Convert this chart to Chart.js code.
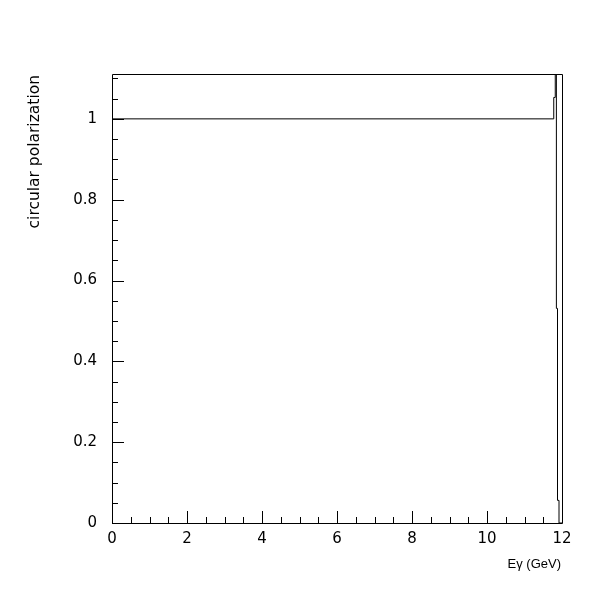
<!DOCTYPE html>
<html>
<head>
<meta charset="utf-8">
<script src="https://cdn.jsdelivr.net/npm/chart.js@4.4.1/dist/chart.umd.min.js"></script>
<style>
  html, body { margin: 0; padding: 0; background: #ffffff; }
  #wrap { width: 600px; height: 600px; }
</style>
</head>
<body>
<div id="wrap"><canvas id="c" width="600" height="600"></canvas></div>
<script>
// Photon energy (GeV) bin edges and circular polarization (step histogram)
const energy = [0, 11.78, 11.82, 11.85, 11.88, 11.92, 12];
const polarization = [1, 1.053, 1.6, 0.531, 0.056, 0, 0];
const xTicks = [0, 2, 4, 6, 8, 10, 12];
const yTicks = [0, 0.2, 0.4, 0.6, 0.8, 1];
const xTitle = 'E\u03B3 (GeV)';
const yTitle = 'circular polarization';

const FONT = '"Liberation Sans", Arial, sans-serif';
const WIDE = '"DejaVu Sans", sans-serif';

const framePlugin = {
  id: 'frame',
  afterDraw(chart) {
    const ctx = chart.ctx;
    const a = chart.chartArea;
    const xs = chart.scales.x, ys = chart.scales.y;
    ctx.save();
    ctx.strokeStyle = '#000';
    ctx.lineWidth = 1;
    ctx.beginPath();
    ctx.rect(Math.round(a.left) + 0.5, Math.round(a.top) + 0.5,
             Math.round(a.right - a.left), Math.round(a.bottom - a.top));
    ctx.stroke();
    ctx.beginPath();
    for (let i = 0; i <= 24; i++) {
      const v = i * 0.5;
      const px = Math.round(xs.getPixelForValue(v)) + 0.5;
      const len = (i % 4 === 0) ? 12 : 6;
      ctx.moveTo(px, a.bottom);
      ctx.lineTo(px, a.bottom - len);
    }
    for (let i = 0; i <= 22; i++) {
      const v = i * 0.05;
      const py = Math.round(ys.getPixelForValue(v)) + 0.5;
      const len = (i % 4 === 0) ? 12 : 6;
      ctx.moveTo(a.left, py);
      ctx.lineTo(a.left + len, py);
    }
    ctx.stroke();
    ctx.fillStyle = '#000';
    ctx.font = '13px ' + FONT;
    ctx.textAlign = 'right';
    ctx.textBaseline = 'alphabetic';
    ctx.fillText(xTitle, a.right - 1, 568);
    ctx.font = '15.5px ' + WIDE;
    ctx.translate(39, a.top + 1);
    ctx.rotate(-Math.PI / 2);
    ctx.textAlign = 'right';
    ctx.fillText(yTitle, 0, 0);
    ctx.restore();
  }
};

new Chart(document.getElementById('c'), {
  type: 'line',
  data: {
    datasets: [{
      data: energy.map((e, i) => ({ x: e, y: polarization[i] })),
      stepped: 'before',
      borderColor: '#000',
      borderWidth: 1,
      pointRadius: 0,
      fill: false
    }]
  },
  options: {
    responsive: false,
    animation: false,
    devicePixelRatio: 1,
    layout: { padding: { top: 74, right: 38, left: 0, bottom: 0 } },
    plugins: { legend: { display: false }, tooltip: { enabled: false } },
    scales: {
      x: {
        type: 'linear',
        min: 0, max: 12,
        afterFit(s) { s.height = 77; },
        afterBuildTicks(s) { s.ticks = xTicks.map(v => ({ value: v })); },
        grid: { display: false, drawTicks: false },
        border: { display: false },
        ticks: {
          color: '#000', padding: 7, maxRotation: 0, autoSkip: false,
          font: { family: WIDE, size: 15 },
          callback: v => String(v)
        }
      },
      y: {
        type: 'linear',
        min: 0, max: 1.111,
        afterFit(s) { s.width = 112; },
        afterBuildTicks(s) { s.ticks = yTicks.map(v => ({ value: v })); },
        grid: { display: false, drawTicks: false },
        border: { display: false },
        ticks: {
          color: '#000', padding: 15, autoSkip: false,
          font: { family: WIDE, size: 15 },
          callback: v => String(Math.round(v * 10) / 10)
        }
      }
    }
  },
  plugins: [framePlugin]
});
</script>
</body>
</html>
